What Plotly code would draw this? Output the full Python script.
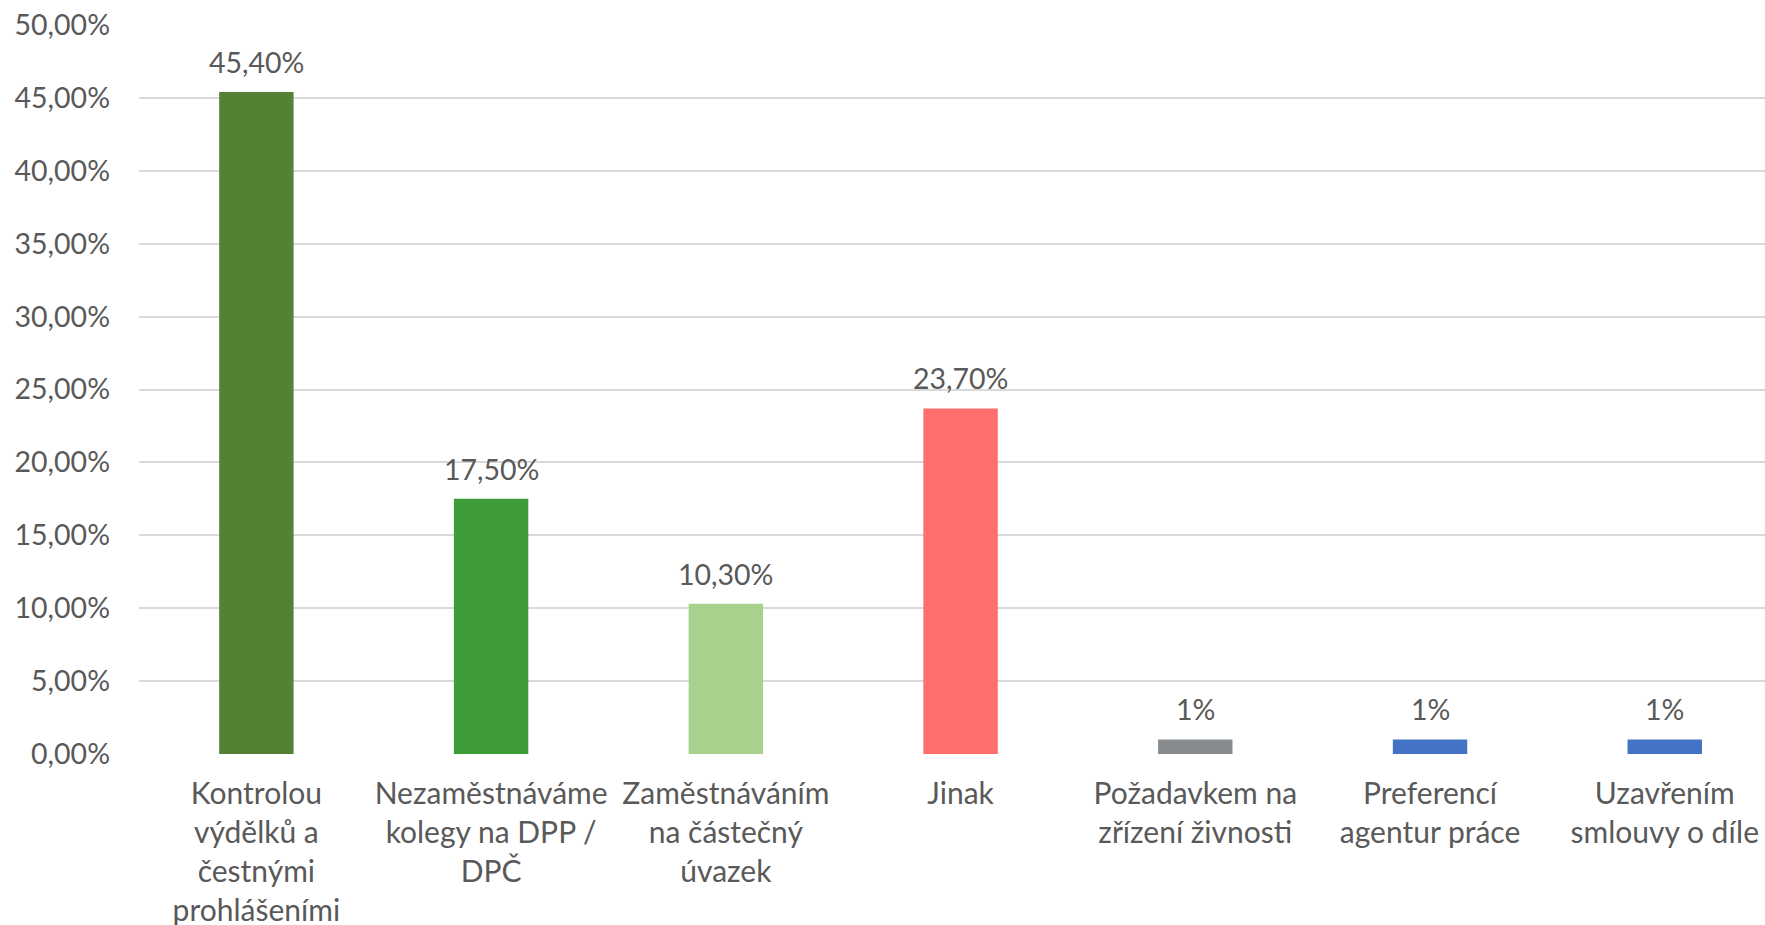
import plotly.graph_objects as go

# Survey answers and their shares (percent)
categories = [
    "Kontrolou<br>výdělků a<br>čestnými<br>prohlášeními",
    "Nezaměstnáváme<br>kolegy na DPP /<br>DPČ",
    "Zaměstnáváním<br>na částečný<br>úvazek",
    "Jinak",
    "Požadavkem na<br>zřízení živnosti",
    "Preferencí<br>agentur práce",
    "Uzavřením<br>smlouvy o díle",
]
values = [45.4, 17.5, 10.3, 23.7, 1, 1, 1]
colors = ["#548235", "#3E9C38", "#A9D18E", "#FF6D6D", "#888B8D", "#4472C4", "#4472C4"]
y_ticks = [0, 5, 10, 15, 20, 25, 30, 35, 40, 45, 50]

FONT = "Lato"
TEXT_COLOR = "#595959"


def fmt(v):
    """Data label: integers as '1%', others with two decimals and a decimal comma."""
    if float(v).is_integer():
        return f"{int(v)}%"
    return f"{v:.2f}".replace(".", ",") + "%"


def fmt_tick(t):
    return f"{t:.2f}".replace(".", ",") + "%"


x_idx = list(range(len(categories)))

fig = go.Figure(
    go.Bar(
        x=x_idx,
        y=values,
        marker=dict(color=colors, line=dict(width=0)),
        width=0.317,
        hoverinfo="skip",
    )
)

for i, v in zip(x_idx, values):
    fig.add_annotation(
        x=i, y=v, text=fmt(v), showarrow=False,
        yanchor="bottom", yshift=11,
        font=dict(family=FONT, size=28.5, color=TEXT_COLOR),
    )

fig.update_layout(
    width=1765,
    height=925,
    margin=dict(l=139, r=0, t=25, b=171),
    plot_bgcolor="white",
    paper_bgcolor="white",
    separators=", ",
    showlegend=False,
    font=dict(family=FONT, size=28, color=TEXT_COLOR),
    xaxis=dict(
        range=[-0.5, 6.427],
        tickmode="array",
        tickvals=x_idx,
        ticktext=categories,
        showgrid=False,
        zeroline=False,
        showline=False,
        ticks="",
        automargin=False,
        ticklabelstandoff=19,
        tickfont=dict(family=FONT, size=30, color=TEXT_COLOR),
    ),
    yaxis=dict(
        range=[0, 50],
        tickmode="array",
        tickvals=y_ticks,
        ticktext=[fmt_tick(t) for t in y_ticks],
        showgrid=True,
        gridcolor="#D9D9D9",
        gridwidth=2,
        zeroline=False,
        showline=False,
        ticks="",
        automargin=False,
        ticklabelstandoff=28,
        tickfont=dict(family=FONT, size=28.5, color=TEXT_COLOR),
    ),
)

fig.write_html("out.html")
